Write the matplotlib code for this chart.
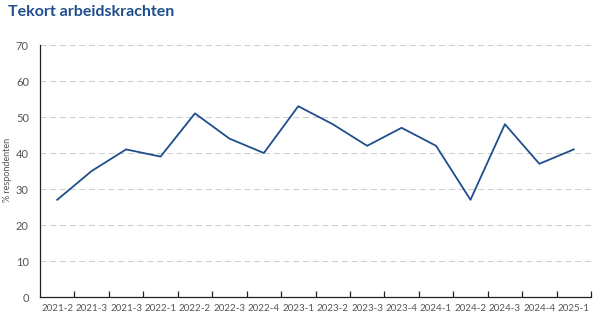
import numpy as np
import matplotlib.pyplot as plt
from matplotlib.ticker import FixedLocator

kwartalen = ["2021-2", "2021-3", "2021-3", "2022-1", "2022-2", "2022-3", "2022-4", "2023-1",
             "2023-2", "2023-3", "2023-4", "2024-1", "2024-2", "2024-3", "2024-4", "2025-1"]
tekort = [27, 35, 41, 39, 51, 44, 40, 53, 48, 42, 47, 42, 27, 48, 37, 41]
y_ticks = [0, 10, 20, 30, 40, 50, 60, 70]

blauw = "#1f4e8c"
grijs = "#555555"

plt.rcParams['font.family'] = ['Lato', 'DejaVu Sans']

fig = plt.figure(figsize=(6.05, 3.26), dpi=100)
ax = fig.add_axes([40 / 605, 29 / 326, 551 / 605, 252 / 326])

x = np.arange(len(kwartalen))
ax.plot(x, tekort, color=blauw, linewidth=1.3)

ax.set_xlim(-0.5, len(kwartalen) - 0.5)
ax.set_ylim(0, 70)

# labels at category centres, tick marks between categories
ax.set_xticks(x)
ax.set_xticklabels(kwartalen, fontsize=7, color=grijs)
ax.tick_params(axis='x', which='major', length=0, pad=5)
ax.xaxis.set_minor_locator(FixedLocator(np.arange(0.5, len(kwartalen), 1.0)))
ax.tick_params(axis='x', which='minor', direction='in', length=4, width=0.9, color="#222222")

ax.set_yticks(y_ticks)
ax.set_yticklabels([str(v) for v in y_ticks], fontsize=8, color=grijs)
ax.tick_params(axis='y', length=0, pad=8)
ax.grid(axis='y', color="#cccccc", linestyle=(0, (6, 4)), linewidth=0.7)

for s in ["top", "right"]:
    ax.spines[s].set_visible(False)
for s in ["left", "bottom"]:
    ax.spines[s].set_color("#222222")
    ax.spines[s].set_linewidth(0.9)

fig.text(8 / 605, 1 - 170 / 326, "% respondenten", fontsize=6.5, color=grijs,
         rotation=90, ha='center', va='center')

fig.text(8 / 605, 1 - 12 / 326, "Tekort arbeidskrachten", fontsize=11.5, fontweight='bold',
         color=blauw, va='center', ha='left')

fig.savefig("out.png", dpi=100)
